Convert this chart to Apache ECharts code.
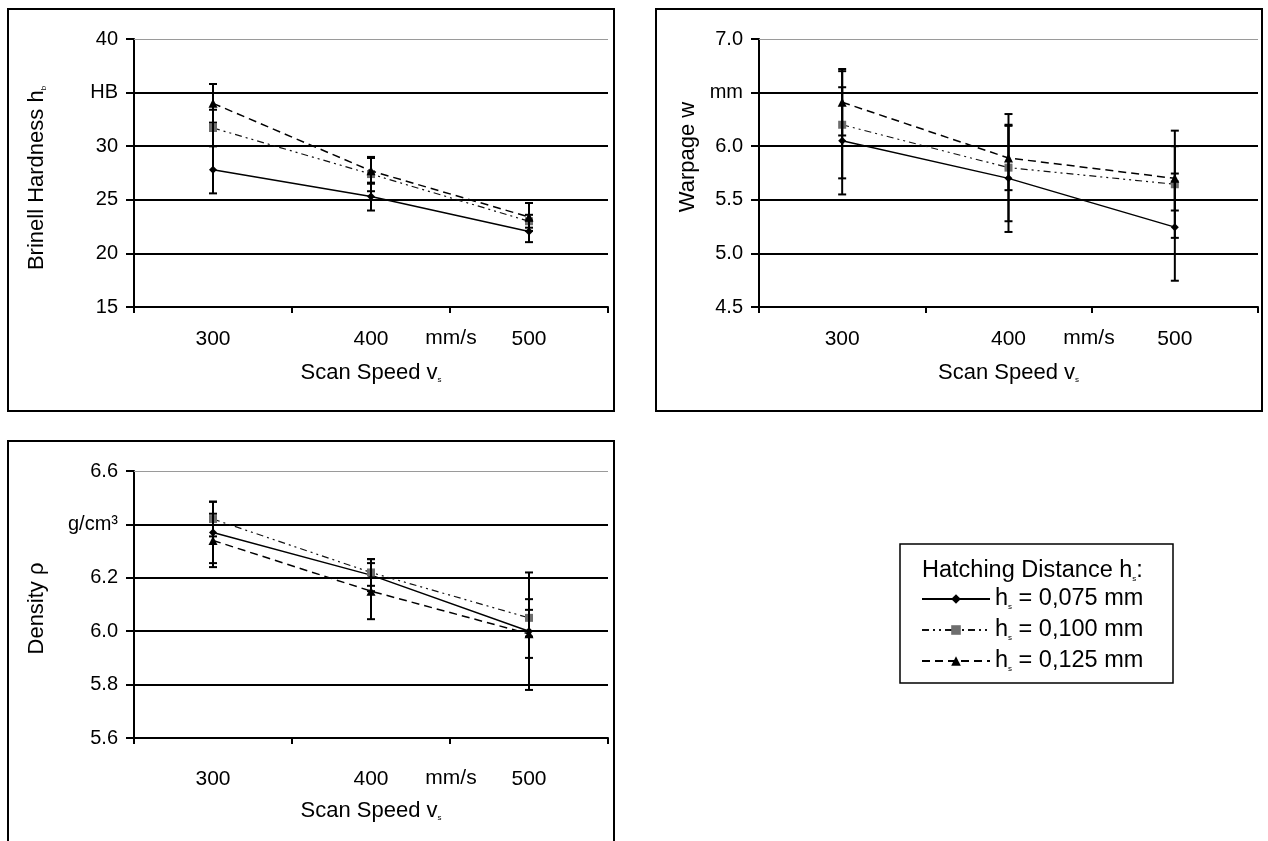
<!DOCTYPE html>
<html>
<head>
<meta charset="utf-8">
<script src="https://cdn.jsdelivr.net/npm/echarts@6/dist/echarts.min.js"></script>
<style>
  html, body { margin: 0; padding: 0; background: #fff; }
  #chart { width: 1268px; height: 841px; }
</style>
</head>
<body>
<div id="chart"></div>
<script>
// categories (scan speed, mm/s)
const speeds = ['300', '400', '500'];
// hatching distance, used as series names
const hatchNames = ['0,075', '0,100', '0,125'];

// Brinell hardness (HB) and +/- error
const hardness075 = [27.8, 25.3, 22.05];
const hardness100 = [31.7, 27.4, 23.0];
const hardness125 = [34.0, 27.7, 23.4];
const hardnessErr075 = [2.2, 1.3, 1.0];
const hardnessErr100 = [1.7, 1.6, 0.6];
const hardnessErr125 = [1.8, 1.2, 1.3];

// warpage (mm) and +/- error
const warpage075 = [6.05, 5.70, 5.245];
const warpage100 = [6.20, 5.80, 5.645];
const warpage125 = [6.41, 5.89, 5.70];
const warpageErr075 = [0.5, 0.5, 0.5];
const warpageErr100 = [0.5, 0.5, 0.5];
const warpageErr125 = [0.31, 0.3, 0.3];

// density (g/cm3) and +/- error
const density075 = [6.37, 6.21, 6.0];
const density100 = [6.42, 6.22, 6.05];
const density125 = [6.34, 6.15, 5.99];
const densityErr075 = [0.115, 0.06, 0.22];
const densityErr100 = [0.065, 0.05, 0.07];
const densityErr125 = [0.1, 0.105, 0.09];

const FONT = '"Liberation Sans", Arial, sans-serif';
const FS = 22;      // axis titles
const XFS = 21;     // x tick labels
const YFS = 20;     // y tick labels
const LFS = 23.5;   // legend

const chart = echarts.init(document.getElementById('chart'));

// one look per hatching distance
const looks = [
  { symbol: 'diamond', symbolSize: 8, line: { color: '#000', width: 1.5, type: 'solid' }, item: '#000' },
  { symbol: 'rect', symbolSize: 8, line: { color: '#111', width: 1.2, type: [7, 4, 2, 4, 2, 4] }, item: '#6e6e6e' },
  { symbol: 'triangle', symbolSize: 9, line: { color: '#000', width: 1.5, type: [8, 5] }, item: '#000' }
];

const grids = [
  { left: 134, top: 39, width: 474, height: 268 },
  { left: 759, top: 39, width: 499, height: 268 },
  { left: 134, top: 471, width: 474, height: 267 }
];

function richFor(size) {
  return {
    t: { fontSize: size, fontFamily: FONT, color: '#000' },
    s: { fontSize: 8, fontFamily: FONT, color: '#000', verticalAlign: 'bottom' }
  };
}
const rich = richFor(FS);
const legendRich = richFor(LFS);

function xAxisFor(gridIndex, labelMargin, nameGap) {
  return {
    type: 'category',
    gridIndex,
    data: speeds,
    boundaryGap: true,
    axisLine: { lineStyle: { color: '#000', width: 2 } },
    axisTick: { show: true, length: 6, lineStyle: { color: '#000', width: 2 } },
    axisLabel: { color: '#000', fontSize: XFS, fontFamily: FONT, margin: labelMargin },
    name: '{t|Scan Speed v}{s|s}',
    nameLocation: 'middle',
    nameGap,
    nameTextStyle: { rich }
  };
}

function yAxisFor(gridIndex, min, max, interval, unitAt, unit, digits, title, nameGap, pad) {
  return {
    type: 'value',
    gridIndex,
    min, max, interval,
    axisLine: { show: true, lineStyle: { color: '#000', width: 2 } },
    axisTick: { show: true, length: 8, lineStyle: { color: '#000', width: 2 } },
    axisLabel: {
      color: '#000', fontSize: YFS, fontFamily: FONT, margin: 16,
      formatter: (v) => Math.abs(v - unitAt) < 1e-6 ? unit : (digits ? v.toFixed(digits) : String(v))
    },
    splitLine: { show: true, showMaxLine: false, lineStyle: { color: '#000', width: 2 } },
    name: title,
    nameLocation: 'middle',
    nameGap,
    nameTextStyle: { rich, padding: pad }
  };
}

function errData(values, errs) {
  return values.map((v, i) => [i, v - errs[i], v + errs[i]]);
}

function renderErr(params, api) {
  const x = api.value(0);
  const lo = api.coord([x, api.value(1)]);
  const hi = api.coord([x, api.value(2)]);
  const w = 4;
  const style = { stroke: '#000', lineWidth: 2 };
  return {
    type: 'group',
    children: [
      { type: 'line', shape: { x1: lo[0], y1: lo[1], x2: hi[0], y2: hi[1] }, style },
      { type: 'line', shape: { x1: lo[0] - w, y1: lo[1], x2: lo[0] + w, y2: lo[1] }, style },
      { type: 'line', shape: { x1: hi[0] - w, y1: hi[1], x2: hi[0] + w, y2: hi[1] }, style }
    ]
  };
}

function seriesFor(idx, valueSets, errSets, topValue) {
  const out = valueSets.map((vals, k) => ({
    type: 'line',
    name: hatchNames[k],
    xAxisIndex: idx,
    yAxisIndex: idx,
    data: vals,
    symbol: looks[k].symbol,
    symbolSize: looks[k].symbolSize,
    lineStyle: looks[k].line,
    itemStyle: { color: looks[k].item },
    emphasis: { disabled: true },
    z: 3 + k
  }));
  // thin grey line on the top edge of the plot area
  out[0].markLine = {
    silent: true,
    symbol: 'none',
    label: { show: false },
    lineStyle: { color: '#9a9a9a', width: 1, type: 'solid' },
    data: [{ yAxis: topValue }]
  };
  const bars = [];
  valueSets.forEach((vals, k) => bars.push(...errData(vals, errSets[k])));
  out.push({
    type: 'custom',
    name: 'err' + idx,
    xAxisIndex: idx,
    yAxisIndex: idx,
    renderItem: renderErr,
    encode: { x: 0, y: [1, 2] },
    data: bars,
    z: 8
  });
  return out;
}

function unitText(x, y) {
  return {
    type: 'text', x, y,
    style: { text: 'mm/s', fontSize: XFS, fontFamily: FONT, fill: '#000', align: 'center', verticalAlign: 'middle' }
  };
}

const option = {
  animation: false,
  backgroundColor: '#fff',
  grid: grids,
  xAxis: [xAxisFor(0, 22, 55), xAxisFor(1, 22, 55), xAxisFor(2, 31, 62)],
  yAxis: [
    yAxisFor(0, 15, 40, 5, 35, 'HB', 0, '{t|Brinell Hardness h}{s|b}', 86, [0, 10, 0, 0]),
    yAxisFor(1, 4.5, 7.0, 0.5, 6.5, 'mm', 1, '{t|Warpage w}', 60, [0, 0, 0, 32]),
    yAxisFor(2, 5.6, 6.6, 0.2, 6.4, 'g/cm³', 1, '{t|Density ρ}', 86, [0, 8, 0, 0])
  ],
  legend: {
    data: hatchNames,
    orient: 'vertical',
    left: 916,
    top: 582,
    itemWidth: 68,
    itemHeight: 12,
    itemGap: 7,
    selectedMode: false,
    formatter: (name) => `{t|h}{s|s}{t| = ${name} mm}`,
    textStyle: { color: '#000', fontFamily: FONT, fontSize: LFS, rich: legendRich }
  },
  graphic: [
    { type: 'rect', shape: { x: 8, y: 9, width: 606, height: 402 }, style: { fill: 'none', stroke: '#000', lineWidth: 2 } },
    { type: 'rect', shape: { x: 656, y: 9, width: 606, height: 402 }, style: { fill: 'none', stroke: '#000', lineWidth: 2 } },
    { type: 'rect', shape: { x: 8, y: 441, width: 606, height: 420 }, style: { fill: 'none', stroke: '#000', lineWidth: 2 } },
    { type: 'rect', shape: { x: 900, y: 544, width: 273, height: 139 }, style: { fill: 'none', stroke: '#000', lineWidth: 1.5 } },
    {
      type: 'text', x: 922, y: 571,
      style: { text: '{t|Hatching Distance h}{s|s}{t|:}', rich: legendRich, verticalAlign: 'middle' }
    },
    unitText(451, 338),
    unitText(1089, 338),
    unitText(451, 778)
  ],
  series: [
    ...seriesFor(0, [hardness075, hardness100, hardness125], [hardnessErr075, hardnessErr100, hardnessErr125], 40),
    ...seriesFor(1, [warpage075, warpage100, warpage125], [warpageErr075, warpageErr100, warpageErr125], 7.0),
    ...seriesFor(2, [density075, density100, density125], [densityErr075, densityErr100, densityErr125], 6.6)
  ]
};

chart.setOption(option);
</script>
</body>
</html>
